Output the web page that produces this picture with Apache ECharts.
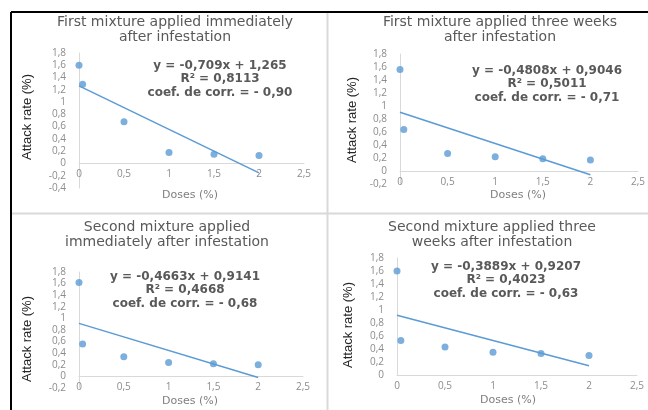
<!DOCTYPE html>
<html><head><meta charset="utf-8">
<script src="https://cdn.jsdelivr.net/npm/echarts@6/dist/echarts.min.js"></script>
<style>html,body{margin:0;padding:0;background:#fff}#c{width:648px;height:410px}</style>
</head><body><div id="c"></div>
<script>
const doses = [0, 0.04, 0.5, 1, 1.5, 2];
const attack1 = [1.6, 1.29, 0.68, 0.18, 0.15, 0.13];
const attack2 = [1.56, 0.64, 0.27, 0.22, 0.19, 0.17];
const attack3 = [1.62, 0.56, 0.34, 0.24, 0.22, 0.20];
const attack4 = [1.6, 0.53, 0.43, 0.35, 0.33, 0.30];
const slopes = [-0.709, -0.4808, -0.4663, -0.3889];
const intercepts = [1.265, 0.9046, 0.9141, 0.9207];
const trendRange = [0, 2];
const titles = [
  'First mixture applied immediately\nafter infestation',
  'First mixture applied three weeks\nafter infestation',
  'Second mixture applied\nimmediately after infestation',
  'Second mixture applied three\nweeks after infestation'
];
const equations = ['y = -0,709x + 1,265', 'y = -0,4808x + 0,9046', 'y = -0,4663x + 0,9141', 'y = -0,3889x + 0,9207'];
const r2Texts = ['R² = 0,8113', 'R² = 0,5011', 'R² = 0,4668', 'R² = 0,4023'];
const corrTexts = ['coef. de corr. = - 0,90', 'coef. de corr. = - 0,71', 'coef. de corr. = - 0,68', 'coef. de corr. = - 0,63'];
const yMins = [-0.4, -0.2, -0.2, 0];
const yMax = 1.8;
const yStep = 0.2;
const xMin = 0, xMax = 2.5, xStep = 0.5;
const yAxisTitle = 'Attack rate (%)';
const xAxisTitle = 'Doses (%)';

const attacks = [attack1, attack2, attack3, attack4];

// layout
const grids = [
  {left: 79, top: 53, width: 225, height: 135},
  {left: 400, top: 54, width: 238, height: 130},
  {left: 79, top: 272, width: 224, height: 116},
  {left: 397, top: 258, width: 240, height: 117}
];
const titlePos = [[175, 30], [500, 30], [167, 235], [492, 235]];
const eqPos = [[220, 59], [547, 64], [185, 270], [506, 260]];
const yNamePos = [[27, 117], [352, 120], [27, 339], [348, 325]];
const xNamePos = [[190, 195], [518, 195], [190, 401], [508, 400]];

const fmt = v => String(+v.toFixed(1)).replace('.', ',');
const blue = '#5b9bd5';
const labelColor = '#8c8c8c';
const axisColor = '#d9d9d9';

const xAxes = [], yAxes = [], series = [], graphics = [];
for (let i = 0; i < 4; i++) {
  const zeroOffset = -(0 - yMins[i]) / (yMax - yMins[i]) * grids[i].height;
  xAxes.push({type: 'value', gridIndex: i, min: xMin, max: xMax, interval: xStep,
    position: 'bottom', offset: zeroOffset,
    axisLine: {show: true, onZero: false, lineStyle: {color: axisColor, width: 1}},
    axisTick: {show: false}, splitLine: {show: false},
    axisLabel: {formatter: fmt, color: labelColor, fontFamily: 'Open Sans', fontSize: 10, margin: 6}});
  yAxes.push({type: 'value', gridIndex: i, min: yMins[i], max: yMax, interval: yStep,
    axisLine: {show: true, onZero: false, lineStyle: {color: axisColor, width: 1}},
    axisTick: {show: false}, splitLine: {show: false},
    axisLabel: {formatter: fmt, color: labelColor, fontFamily: 'Open Sans', fontSize: 10, margin: 13}});
  series.push({type: 'scatter', xAxisIndex: i, yAxisIndex: i, symbolSize: 7,
    itemStyle: {color: blue}, data: doses.map((d, k) => [d, attacks[i][k]]), z: 3});
  series.push({type: 'line', xAxisIndex: i, yAxisIndex: i, symbol: 'none',
    lineStyle: {color: blue, width: 1.5}, z: 2,
    data: trendRange.map(x => [x, slopes[i] * x + intercepts[i]])});
  graphics.push({type: 'text', x: titlePos[i][0], y: titlePos[i][1],
    style: {text: titles[i], textAlign: 'center', textVerticalAlign: 'middle', align: 'center', verticalAlign: 'middle',
      font: '14px "DejaVu Sans"', fill: '#595959', lineHeight: 15}});
  graphics.push({type: 'text', x: eqPos[i][0], y: eqPos[i][1],
    style: {text: equations[i] + '\n' + r2Texts[i] + '\n' + corrTexts[i], textAlign: 'center', textVerticalAlign: 'top', align: 'center', verticalAlign: 'top',
      font: 'bold 12px "DejaVu Sans"', fill: '#595959', lineHeight: 13.5}, z: 10});
  graphics.push({type: 'text', x: yNamePos[i][0], y: yNamePos[i][1], rotation: Math.PI / 2,
    style: {text: yAxisTitle, textAlign: 'center', textVerticalAlign: 'middle', align: 'center', verticalAlign: 'middle',
      font: '13px "Liberation Sans Narrow", "Liberation Sans", sans-serif', fill: '#262626'}});
  graphics.push({type: 'text', x: xNamePos[i][0], y: xNamePos[i][1],
    style: {text: xAxisTitle, textAlign: 'center', textVerticalAlign: 'middle', align: 'center', verticalAlign: 'middle',
      font: '11px "DejaVu Sans"', fill: '#7f7f7f'}});
}
// frame lines
graphics.push({type: 'line', shape: {x1: 11, y1: 12, x2: 648, y2: 12}, style: {stroke: '#000', lineWidth: 2}});
graphics.push({type: 'line', shape: {x1: 11, y1: 12, x2: 11, y2: 410}, style: {stroke: '#000', lineWidth: 2}});
graphics.push({type: 'line', shape: {x1: 327.5, y1: 13, x2: 327.5, y2: 410}, style: {stroke: '#d9d9d9', lineWidth: 2}});
graphics.push({type: 'line', shape: {x1: 12, y1: 213.5, x2: 648, y2: 213.5}, style: {stroke: '#d9d9d9', lineWidth: 2}});

const chart = echarts.init(document.getElementById('c'), null, {renderer: 'canvas'});
chart.setOption({
  animation: false,
  grid: grids,
  xAxis: xAxes,
  yAxis: yAxes,
  series: series,
  graphic: graphics
});
</script></body></html>
